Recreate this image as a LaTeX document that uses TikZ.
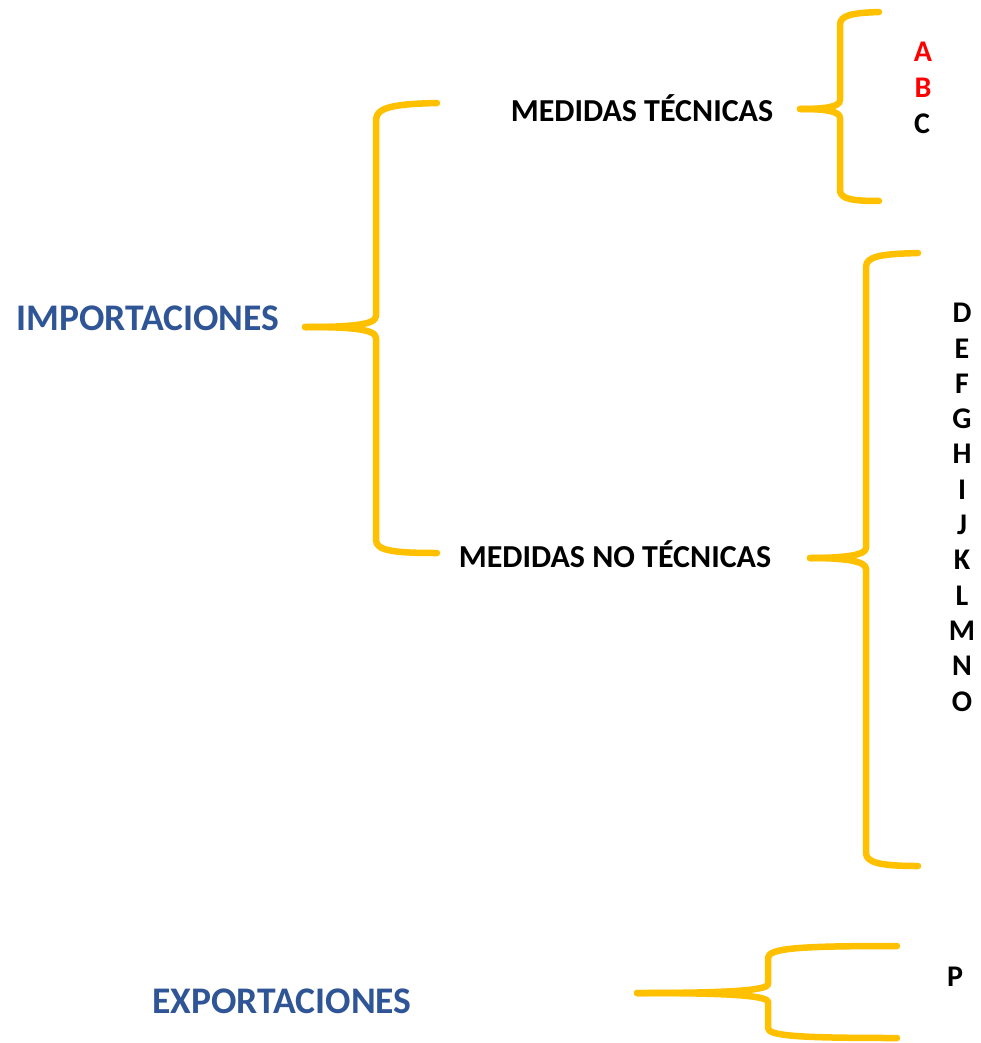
\documentclass[tikz,border=0pt]{standalone}
\usepackage{fontspec}
\setmainfont{Carlito}
\definecolor{bracey}{HTML}{FFC000}
\definecolor{titleblue}{HTML}{2F5597}
\definecolor{itemred}{HTML}{FF0000}
\begin{document}
\begin{tikzpicture}[x=1pt,y=-1pt,
  brace/.style={draw=bracey,line width=6.5pt,line cap=round,line join=round},
  title/.style={font=\fontsize{37.6}{40}\selectfont\bfseries,text=titleblue,inner sep=0pt},
  sub/.style={font=\fontsize{32}{36}\selectfont\bfseries,text=black,inner sep=0pt},
  item/.style={font=\fontsize{30}{34}\selectfont\bfseries,text=black,inner sep=0pt}]
\useasboundingbox (0,0) rectangle (981,1043);
% texts
\node[title] (imp) at (148,318) {IMPORTACIONES};
\node[title] (exp) at (282,1001) {EXPORTACIONES};
\node[sub] (mt) at (642,108) {MEDIDAS TÉCNICAS};
\node[sub] (mnt) at (615,554) {MEDIDAS NO TÉCNICAS};
\node[item,text=itemred] (a) at (923,52) {A};
\node[item,text=itemred] (b) at (923,88) {B};
\node[item] (c) at (922,124) {C};
\foreach \l [count=\i from 0] in {D,E,F,G,H,I,J,K,L,M,N,O}
  \node[item] (\l) at (962,{313+35.3*\i}) {\l};
\node[item] (p) at (955,977) {P};
% brace 1
\draw[brace] (437,103) .. controls (395,104) and (376,107) .. (376,120) -- (376,316)
  .. controls (376,325) and (350,327) .. (305,327);
\draw[brace] (305,327) .. controls (350,327) and (376,329) .. (376,338) -- (376,540)
  .. controls (376,551) and (395,553) .. (437,553);
% brace 2
\draw[brace] (879,12) .. controls (852,13) and (840,15) .. (840,25) -- (840,100)
  .. controls (840,107) and (825,109) .. (800,109);
\draw[brace] (800,109) .. controls (825,109) and (840,111) .. (840,118) -- (840,190)
  .. controls (840,199) and (852,201) .. (879,201);
% brace 3
\draw[brace] (918,253) .. controls (882,254) and (866,256) .. (866,267) -- (866,548)
  .. controls (866,555) and (845,558) .. (810,558);
\draw[brace] (810,558) .. controls (845,558) and (866,561) .. (866,569) -- (866,853)
  .. controls (866,863) and (882,866) .. (918,866);
% brace 4
\draw[brace] (897,946) .. controls (800,946) and (768,948) .. (768,958) -- (768,984)
  .. controls (768,991) and (720,993) .. (637,993);
\draw[brace] (637,993) .. controls (720,993) and (768,995) .. (768,1002) -- (768,1028)
  .. controls (768,1036) and (800,1038) .. (897,1038);
\end{tikzpicture}
\end{document}
